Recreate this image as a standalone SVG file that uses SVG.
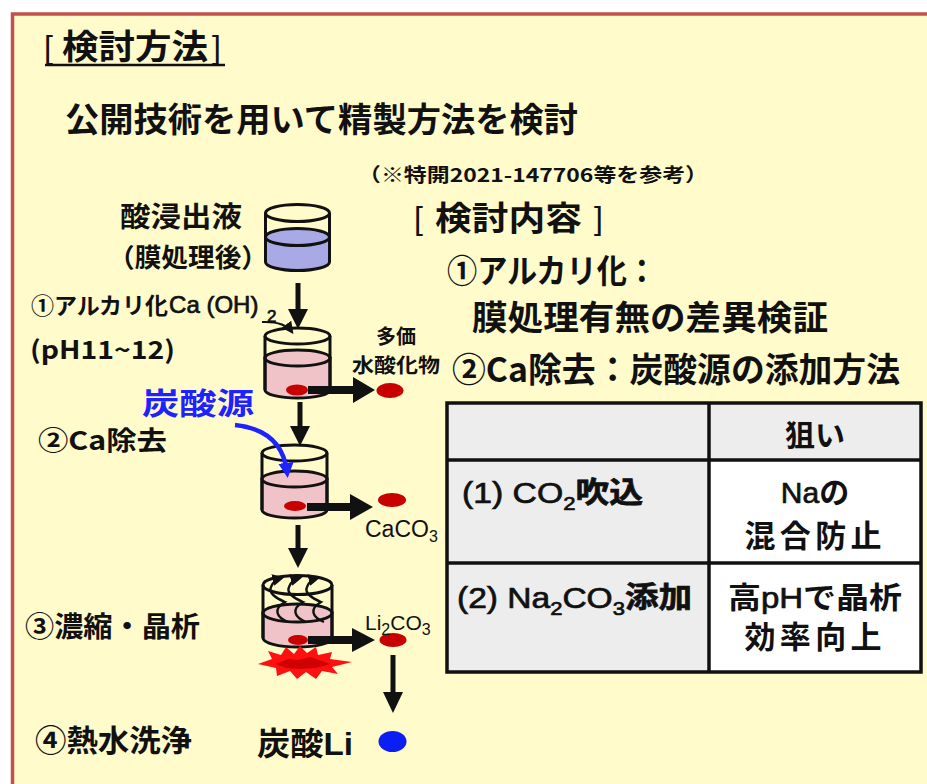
<svg xmlns="http://www.w3.org/2000/svg" width="927" height="784" viewBox="0 0 927 784">
  <defs>
    <style>
      .jp { font-family: "Noto Sans CJK JP", sans-serif; font-weight: bold; fill: #111; }
      .lat { font-family: "Liberation Sans", "Noto Sans CJK JP", sans-serif; fill: #111; }
      .semi { stroke: #111; stroke-width: 0.7; }
      .b { font-weight: bold; }
      .glass { fill: none; stroke: #111; stroke-width: 3; }
      .liqB { fill: #A9A9E6; stroke: #111; stroke-width: 3; }
      .liqP { fill: #F0C3C8; stroke: #111; stroke-width: 3; }
      .ppt { fill: #C80000; }
      .down { stroke: #111; stroke-width: 5; fill: none; }
      .head { fill: #111; }
      .cellG { fill: #EDEDED; }
      .cellW { fill: #FFFFFF; }
      .grid { stroke: #111; stroke-width: 3.5; fill: none; }
    </style>
    <marker id="tinyHead" viewBox="0 0 10 10" refX="8" refY="5" markerWidth="6" markerHeight="6" orient="auto">
      <path d="M0,0 L10,5 L0,10 z" fill="#111"/>
    </marker>
    <marker id="blueHead" viewBox="0 0 10 10" refX="6" refY="5" markerWidth="3.4" markerHeight="3.4" orient="auto">
      <path d="M0,0 L10,5 L0,10 z" fill="#1E22FF"/>
    </marker>
    <marker id="swirlHead" viewBox="0 0 10 10" refX="7" refY="5" markerWidth="5" markerHeight="5" orient="auto">
      <path d="M0,0 L10,5 L0,10 z" fill="#111"/>
    </marker>
  </defs>

  <!-- panel background with red frame -->
  <rect x="0" y="0" width="927" height="784" fill="#FFFFFF"/>
  <rect x="12.5" y="14" width="930" height="790" fill="#FFFBCB" stroke="#C4504E" stroke-width="3.5"/>

  <!-- headings -->
  <g id="title">
    <text class="lat" x="44" y="58" font-size="32">[</text>
    <text class="jp" x="62" y="59" font-size="34" textLength="146" lengthAdjust="spacingAndGlyphs">検討方法</text>
    <text class="lat" x="212" y="58" font-size="32">]</text>
    <line x1="45" y1="65" x2="225" y2="65" stroke="#111" stroke-width="2.5"/>
  </g>
  <g id="subtitle">
    <text class="jp" x="65" y="132" font-size="34" textLength="513" lengthAdjust="spacingAndGlyphs">公開技術を用いて精製方法を検討</text>
  </g>
  <g id="reference-note">
    <text class="jp" x="358" y="182" font-size="19" textLength="350" lengthAdjust="spacingAndGlyphs">（※特開2021-147706等を参考）</text>
  </g>
  <g id="study-items">
    <text class="lat" x="414" y="229" font-size="32">[</text>
    <text class="jp" x="435" y="230" font-size="33" textLength="147" lengthAdjust="spacingAndGlyphs">検討内容</text>
    <text class="lat" x="594" y="229" font-size="32">]</text>
    <text class="jp" x="447" y="283" font-size="33" textLength="210" lengthAdjust="spacingAndGlyphs">①アルカリ化：</text>
    <text class="jp" x="472" y="330" font-size="34" textLength="356" lengthAdjust="spacingAndGlyphs">膜処理有無の差異検証</text>
    <text class="jp" x="452" y="382" font-size="34" textLength="448" lengthAdjust="spacingAndGlyphs">②Ca除去：炭酸源の添加方法</text>
  </g>

  <!-- comparison table -->
  <g id="table">
    <rect class="cellG" x="447" y="403" width="474" height="57"/>
    <rect class="cellG" x="447" y="460" width="262" height="212"/>
    <rect class="cellW" x="709" y="460" width="212" height="212"/>
    <rect class="grid" x="447" y="403" width="474" height="269"/>
    <line class="grid" x1="709" y1="403" x2="709" y2="672"/>
    <line class="grid" x1="447" y1="460" x2="921" y2="460"/>
    <line class="grid" x1="447" y1="563" x2="921" y2="563"/>
    <text class="jp" x="815" y="446" font-size="30" text-anchor="middle">狙い</text>
    <text class="lat semi" x="462" y="503" font-size="29" textLength="181" lengthAdjust="spacingAndGlyphs">(1) CO<tspan font-size="19" dy="7">2</tspan><tspan class="jp" font-size="29" dy="-7">吹込</tspan></text>
    <text class="lat" x="815" y="503" font-size="30" text-anchor="middle"><tspan class="semi">Na</tspan><tspan class="jp">の</tspan></text>
    <text class="jp" x="813" y="547" font-size="31" text-anchor="middle" textLength="137" lengthAdjust="spacing">混合防止</text>
    <text class="lat semi" x="457" y="608" font-size="29" textLength="235" lengthAdjust="spacingAndGlyphs">(2) Na<tspan font-size="19" dy="7">2</tspan><tspan dy="-7">CO</tspan><tspan font-size="19" dy="7">3</tspan><tspan class="jp" font-size="29" dy="-7">添加</tspan></text>
    <text class="jp" x="728" y="608" font-size="30" textLength="174" lengthAdjust="spacingAndGlyphs">高<tspan class="lat semi" font-weight="normal">pH</tspan>で晶析</text>
    <text class="jp" x="813" y="648" font-size="31" text-anchor="middle" textLength="137" lengthAdjust="spacing">効率向上</text>
  </g>

  <!-- left step labels -->
  <g id="feed-label">
    <text class="jp" x="120" y="227" font-size="28" textLength="122" lengthAdjust="spacingAndGlyphs">酸浸出液</text>
    <text class="jp" x="108" y="267" font-size="26" textLength="160" lengthAdjust="spacingAndGlyphs">（膜処理後）</text>
  </g>
  <g id="step1-label">
    <text class="jp" x="31" y="314" font-size="23">①アルカリ化<tspan class="lat semi" font-weight="normal" font-size="24" dx="1" dy="-1">Ca (OH)</tspan></text>
    <text class="lat semi" x="267" y="322" font-size="17">2</text>
    <text class="jp" x="30" y="359" font-size="25" textLength="145" lengthAdjust="spacingAndGlyphs">(pH11~12)</text>
  </g>
  <g id="carbonate-label">
    <text class="jp" x="142" y="414" font-size="30" style="fill:#1E22FF" textLength="112" lengthAdjust="spacingAndGlyphs">炭酸源</text>
  </g>
  <g id="step2-label">
    <text class="jp" x="38" y="450" font-size="26" textLength="129" lengthAdjust="spacingAndGlyphs">②Ca除去</text>
  </g>
  <g id="step3-label">
    <text class="jp" x="25" y="637" font-size="28" textLength="175" lengthAdjust="spacingAndGlyphs">③濃縮・晶析</text>
  </g>
  <g id="step4-label">
    <text class="jp" x="35" y="751" font-size="30" textLength="157" lengthAdjust="spacingAndGlyphs">④熱水洗浄</text>
  </g>

  <!-- beaker 1: membrane-treated leachate -->
  <g id="beaker1">
    <path class="liqB" d="M265.5,237 L265.5,262 A32,8.5 0 0 0 329.5,262 L329.5,237 z"/>
    <ellipse class="liqB" cx="297.5" cy="237" rx="32" ry="8.5"/>
    <path class="glass" d="M265.5,213 L265.5,262 M329.5,213 L329.5,262"/>
    <ellipse class="glass" cx="297.5" cy="213" rx="32" ry="8.5"/>
  </g>

  <!-- beaker 2: alkalization -->
  <g id="beaker2">
    <path class="liqP" d="M265,358 L265,390 A32.5,8 0 0 0 330,390 L330,358 z"/>
    <ellipse class="liqP" cx="297.5" cy="358" rx="32.5" ry="8"/>
    <path class="glass" d="M265,336 L265,390 M330,336 L330,390"/>
    <ellipse class="glass" cx="297.5" cy="336" rx="32.5" ry="8"/>
    <ellipse class="ppt" cx="297" cy="390" rx="11" ry="5.5"/>
  </g>

  <!-- beaker 3: Ca removal -->
  <g id="beaker3">
    <path class="liqP" d="M262,479 L262,510 A32.5,8 0 0 0 327,510 L327,479 z"/>
    <ellipse class="liqP" cx="294.5" cy="479" rx="32.5" ry="8"/>
    <path class="glass" d="M262,453 L262,510 M327,453 L327,510"/>
    <ellipse class="glass" cx="294.5" cy="453" rx="32.5" ry="8"/>
    <ellipse class="ppt" cx="295" cy="506" rx="11" ry="5"/>
  </g>

  <!-- beaker 4: concentration with stirring and heating -->
  <g id="beaker4">
    <path class="liqP" d="M263,613 L263,638 A34.5,9 0 0 0 332,638 L332,613 z"/>
    <ellipse class="liqP" cx="297.5" cy="613" rx="34.5" ry="9"/>
    <path class="glass" d="M263,585 L263,638 M332,585 L332,638"/>
    <ellipse class="glass" cx="297.5" cy="585" rx="34.5" ry="9.5"/>
    <ellipse class="ppt" cx="298" cy="640" rx="10" ry="5"/>
    <g fill="none" stroke="#111" stroke-width="2.4">
      <path d="M288,622 C276,617 273,609 285,602 C276,598 268,593 271,587 C273,582 277,579 281,578" marker-end="url(#swirlHead)"/>
      <path d="M306,622 C294,617 291,609 303,602 C294,598 286,593 289,587 C291,582 295,579 299,578" marker-end="url(#swirlHead)"/>
      <path d="M324,622 C312,617 309,609 321,602 C312,598 304,593 307,587 C309,582 313,579 317,578" marker-end="url(#swirlHead)"/>
    </g>
    <!-- heater flame -->
    <path d="M258,664 L272,659 L268,651 L281,655 L286,647 L294,654 L300,646 L307,653 L316,647 L318,655 L332,652 L330,659 L352,662 L332,667 L338,674 L322,671 L316,679 L306,672 L297,679 L290,671 L277,676 L276,668 z" fill="#FF1010"/>
    <path d="M276,664 L288,659 L298,660 L310,657 L322,661 L330,664 L316,668 L300,669 L286,668 z" fill="#D00000"/>
  </g>

  <!-- products -->
  <g id="hydroxide">
    <ellipse class="ppt" cx="390" cy="390.5" rx="13.5" ry="7.5"/>
    <text class="jp" x="396" y="344" font-size="20" text-anchor="middle">多価</text>
    <text class="jp" x="396" y="373" font-size="20" text-anchor="middle" textLength="88" lengthAdjust="spacingAndGlyphs">水酸化物</text>
  </g>
  <g id="caco3">
    <ellipse class="ppt" cx="392" cy="500" rx="14" ry="7"/>
    <text class="lat" x="365" y="537" font-size="23">CaCO<tspan font-size="16" dy="5">3</tspan></text>
  </g>
  <g id="li2co3">
    <ellipse class="ppt" cx="393" cy="640" rx="13.5" ry="7"/>
    <text class="lat" x="365" y="630" font-size="21">Li<tspan font-size="16" dy="5">2</tspan><tspan dy="-5">CO</tspan><tspan font-size="16" dy="5">3</tspan></text>
  </g>
  <g id="lithium-carbonate">
    <ellipse cx="392.5" cy="741.5" rx="14" ry="10.5" fill="#0A1EF5"/>
    <text class="jp" x="257" y="755" font-size="32" textLength="96" lengthAdjust="spacingAndGlyphs">炭酸<tspan class="lat b">Li</tspan></text>
  </g>

  <!-- connectors -->
  <g id="connectors">
    <!-- vertical flow arrows -->
    <line class="down" x1="298" y1="283" x2="298" y2="312"/>
    <path class="head" d="M288,309 L308,309 L298,329 z"/>
    <line class="down" x1="300" y1="402" x2="300" y2="429"/>
    <path class="head" d="M290,426 L310,426 L300,446 z"/>
    <line class="down" x1="298" y1="525" x2="298" y2="551"/>
    <path class="head" d="M288,548 L308,548 L298,568 z"/>
    <line class="down" x1="393" y1="655" x2="393" y2="695"/>
    <path class="head" d="M383,692 L403,692 L393,713 z"/>
    <!-- separation arrows -->
    <path class="head" d="M308,386 L353,386 L353,377 L375,390 L353,403 L353,394 L308,394 z"/>
    <path class="head" d="M307,503 L350,503 L350,494 L373,507 L350,520 L350,511 L307,511 z"/>
    <path class="head" d="M308,636 L352,636 L352,628 L375,640 L352,652 L352,644 L308,644 z"/>
    <!-- reagent additions -->
    <path d="M262,322 Q284,321 292,332" fill="none" stroke="#111" stroke-width="2" marker-end="url(#tinyHead)"/>
    <path d="M235,425 Q282,430 287,472" fill="none" stroke="#1E22FF" stroke-width="4.5" marker-end="url(#blueHead)"/>
  </g>
</svg>
